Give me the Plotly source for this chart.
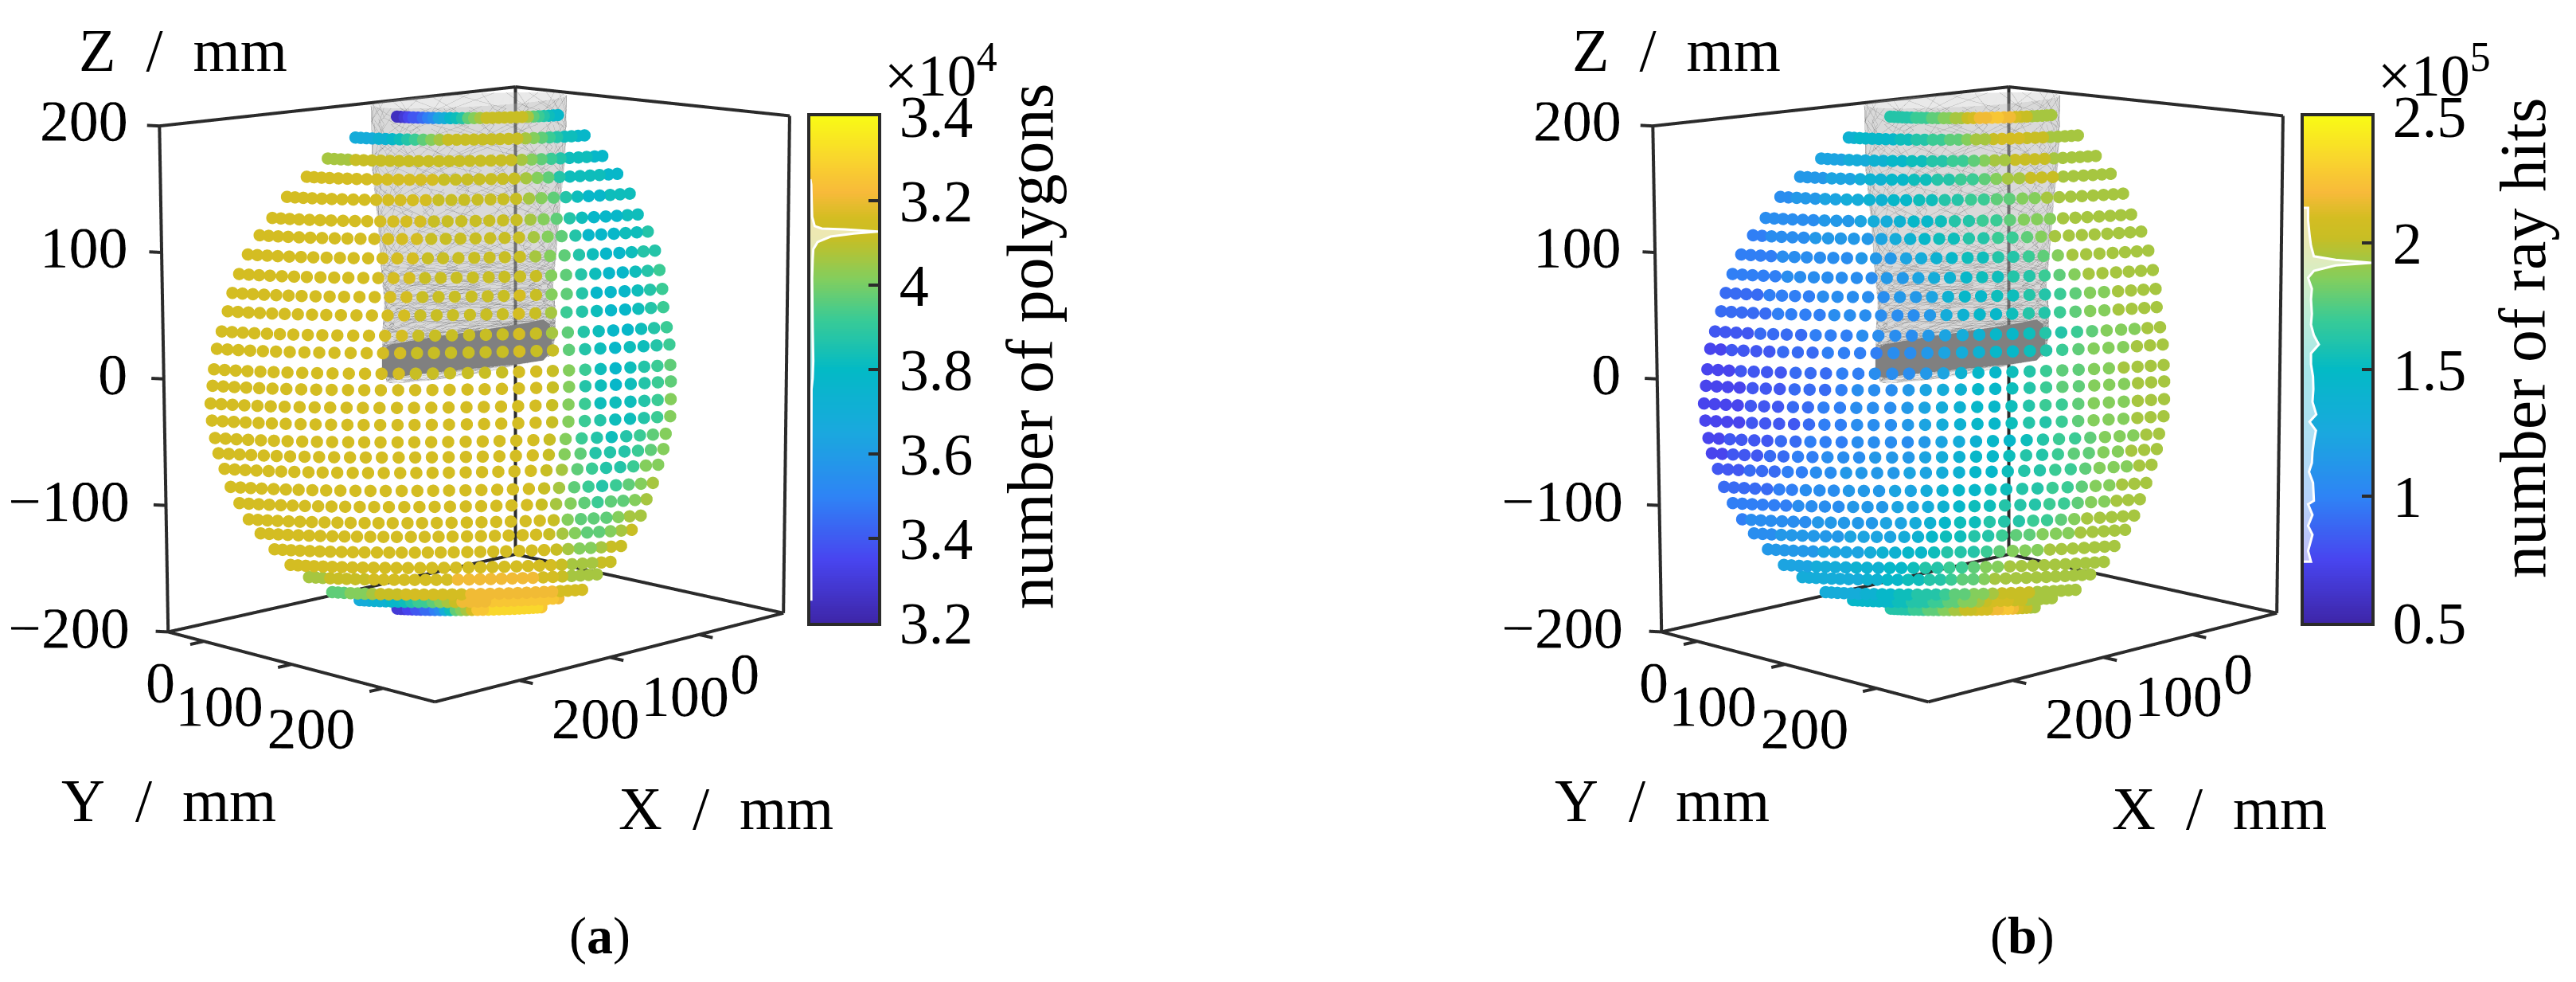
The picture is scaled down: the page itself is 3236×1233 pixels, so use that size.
import numpy as np
import plotly.graph_objects as go

W, H = 3236, 1233
PAGE_MARGIN = 8  # the page body adds this much on the top and left
FONT = "Liberation Serif"
INK = "#2b2b2b"

# one row per ring of sample points, top to bottom (mm)
ROW_Z = [225, 217, 206, 196, 184, 170, 159, 146, 132, 118, 104, 89, 76, 60, 47,
         33, 19, 4, -9, -23, -39, -54, -69, -83, -99, -115, -129, -146, -159, -173]
ROW_RADIUS = [85, 121, 145, 164, 181, 193, 205, 215, 222, 227, 230, 235, 239, 241, 242,
              243, 242, 238, 235, 229, 223, 215, 207, 196, 183, 169, 152, 132, 105, 76]
ROW_SHIFT = [20, 16, 13.4, 12, 10, 8, 7.6, 6.3, 5, 3.7, 2.4, 1.6, 1, 0.3, 0,
             -0.8, -0.5, -1.3, -1, -1, -1, -0.5, 0.5, 1, 1.6, 3, 4, 6.3, 6.3, 13]
# azimuth of each column, relative to the view direction (deg)
COL_ANGLE = [-55, -51.6, -48.3, -45, -41.6, -38.3, -35, -31.6, -28.3, -25, -21.6, -18.3, -15, -11.6,
             -8.3, -5, -1.7, 1.7, 5, 8.3, 11.6, 15, 18.3, 21.6, 25, 28.3, 31.6, 35, 38.3, 41.6, 45]

# colour level per point: A = bottom of the colour bar ... Z = top
LEVELS_A = [
    "BBCDEEFGHJKMNOQRSTTTTTTTSQPONMM",
    "KKKKLLMNOPQRSTTTTTTTTTSRQPONNMM",
    "SSSSTTTTTTTTTTTTTTTTTSRQPONNNMM",
    "UUUUUUUUUUUUUUTTTTTTTSRQONNNNMM",
    "UUUUUUUUUUUUUUTTTTTTTSRQONMMNNN",
    "UUUUUUUUUUUUUUTTTTTTTSRQONMMMNN",
    "UUUUUUUUUUUUUUTTTTTTTSRQOMMMNNO",
    "UUUUUUUUUUUUUUTTTTTTTSRQONMMNOO",
    "UUUUUUUUUUUUUUTTTTTTTTRQONMMNOP",
    "UUUUUUUUUUUUUUTTTTTTUTRQOMMMNOP",
    "UUUUUUUUUUUUUUTTTTTTUTSPONMMNOP",
    "UUUUUUUUUUUUUUTTTTTTUTSQONMMNOP",
    "UUUUUUUUUUUUUUTTTTTTUTTQONMNNOP",
    "UUUUUUUUUUUUUUTTTTTTUUTRPNMNOPQ",
    "UUUUUUUUUUUUUUUUUUUUUUTRONMNOPQ",
    "UUUUUUUUUUUUUUUUUUUUUUTRPNNNOPR",
    "UUUUUUUUUUUUUUUUUUUUUUTRPONNOPR",
    "UUUUUUUUUUUUUUUUUUUUUUTRPONOPQR",
    "UUUUUUUUUUUUUUUUUUUUUUTRQOOOPQR",
    "UUUUUUUUUUUUUUUUUUUUUUTSQPOOPRR",
    "UUUUUUUUUUUUUUUUUUUUUUTSQPOPQRS",
    "UUUUUUUUUUUUUUUUUUUUUUTSRQPQQRS",
    "UUUUUUUUUUUUUUUUUUUUUUUTRQQQRSS",
    "UUUUUUUUUUUUUUUUUUUUUUUTSRQQRST",
    "UUUUUUUUUUUUUUUUUUUUUUUUTSRRSTT",
    "UUUUUUUUUUUUUUUUUUUUUUUUUTSSSTT",
    "SSSTTTTTUUUUUUUUVVVVVVVVUUTSSSS",
    "QQQRRRSTTTUUUUUUUVVVVVVVVVVUUUU",
    "KKKLLLMMNOPPQRSTVVVVWWWWWWWWWWV",
    "CCCDDEEFFGHKNQRSUWWXXXXXXXXXXXW",
]
LEVELS_B = [
    "OOOOOOPPPQQRRSSTUVVWWVVUTTSSSSS",
    "LLMMMMMMNNOOPPQQRSSTUUUTTTSSSSS",
    "JJJJKKKLLMMNNOOPPQRSSTTTTSSSSSS",
    "IIIIJJJKLLMMNNOOPPQRSSTTTSSSSSS",
    "HHIIIJJKKLLMMNNOOPPQQRRSSSSSSSS",
    "HHHHHHIIIJKKLMMNOOPPQRRRSSSSSSS",
    "GGHHHHIIIIIJKLMNNOOPPQRSSSSSSSS",
    "GGGGHHHHHHIIIJKLMNNOOPQRSSSSSSS",
    "GGGGGHHHHHHHIIJKLMNNOOPQRSSSSSS",
    "FFFFGGGGHHHHHIIJLMMNNOOPQRRSSSS",
    "FFFFFGGGGHHHHHHIKLMMNOOPQRRSSSS",
    "EEEEFFFFGGGHHHHIJKLMMNOOPQRRRSS",
    "DDEEEEFFFGGGGHHIJKLMMNOPQRRRSSS",
    "DDDEEEEFFFGGHHHIJLMMNOPQQRRSSSS",
    "DDDDEEEFFFGHHHIJKLMMNOPQQRRRSSS",
    "DDDDEEEFFGGHHHIJKLMMNOPPQRRRSSS",
    "DDDDEEEEFGGHHHIJKLMMNOOPQRRRSSS",
    "DDEEEEFFGGGHHHHIJKLMMNOPPQRRRSS",
    "DDEEEFFGGHHHIIIJKLMMNOOPQQRRSSS",
    "EEEFFFGGHHIIIIJJKLMMNOOPPQRRRSS",
    "FFFFFGGHHHIIIJJKLMMNNOOPPQRRSSS",
    "GGGGGGHHHHIIIJJKLMNNOOOPPQRRSSS",
    "GHHHHHHIIIIIJJKLMNNOOOPPQRSSSSS",
    "HHHIIIIIIJJJJKLMNNOOPQQRRRSSSSS",
    "IIIIIIJJJJKLLMMNOOOPQRRRSSSSSSS",
    "JJJJKKKKLLLMMNOOPPQRRSSSSSSSSSS",
    "KKKKKKKKLLMMNNOOPQQRSSSSSSSSSSS",
    "KKKKKKLLMMNNOOOPQQRRSTTTTSSSSSS",
    "MMMMMMMMNNOOOPPQQRRSTUUUTTSSSSS",
    "OOOOOOPPPQQQRRSSTTUUUVVWWVUTTSS",
]

# colour bars
RANGE_A = [3.2, 4.4]
RANGE_B = [0.5, 2.5]
TICKS_A = [3.2, 3.4, 3.6, 3.8, 4.0, 4.2, 4.4]
TICKTEXT_A = ["3.2", "3.4", "3.6", "3.8", "4", "3.2", "3.4"]
TICKS_B = [0.5, 1.0, 1.5, 2.0, 2.5]
TICKTEXT_B = ["0.5", "1", "1.5", "2", "2.5"]
HIST_A_V = [3.255, 3.387, 3.557, 3.753, 3.779, 3.821, 3.898, 4.017, 4.06, 4.085, 4.102,
            4.115, 4.122, 4.127, 4.132, 4.134, 4.14, 4.162, 4.238, 4.251]
HIST_A_N = [0.013, 0.01, 0.01, 0.017, 0.034, 0.043, 0.034, 0.026, 0.034, 0.043, 0.107,
            0.3, 0.64, 1.0, 0.51, 0.17, 0.064, 0.026, 0.013, 0.0]
HIST_B_V = [0.741, 0.784, 0.848, 0.883, 0.926, 0.968, 0.982, 1.053, 1.096, 1.131, 1.174, 1.216,
            1.259, 1.294, 1.323, 1.372, 1.422, 1.472, 1.521, 1.564, 1.599, 1.635, 1.677, 1.72,
            1.777, 1.819, 1.862, 1.89, 1.911, 1.921, 1.933, 1.947, 1.989, 2.032, 2.089, 2.138]
HIST_B_N = [0.107, 0.064, 0.129, 0.064, 0.129, 0.064, 0.15, 0.137, 0.077, 0.12, 0.129, 0.15,
            0.18, 0.086, 0.185, 0.129, 0.142, 0.137, 0.107, 0.107, 0.223, 0.15, 0.107, 0.12,
            0.107, 0.12, 0.064, 0.15, 0.472, 1.0, 0.472, 0.15, 0.107, 0.086, 0.064, 0.064]

PARULA = [[0, "#3E26A8"], [0.125, "#4845F0"], [0.25, "#2E84F5"], [0.375, "#1AA8DE"], [0.5, "#03BAC5"],
          [0.6, "#3ACB95"], [0.68, "#84CE5C"], [0.76, "#C8BE24"], [0.8, "#D4BD22"], [0.85, "#F8BA3A"],
          [0.92, "#F9D72C"], [1, "#F9FB15"]]

# axes box corners as (across view, towards view, height); the reference has a little
# perspective, the scene here is orthographic, so they are read off one by one
TOP_LEFT = (-252, 17.7, 201)
BOTTOM_LEFT = (-245, 17.7, -206)
TOP_BACK = (35, -251, 163)
BOTTOM_BACK = (35, -251, -213)
TOP_RIGHT = (256, -17.7, 200)
BOTTOM_RIGHT = (251, -17.7, -200)
BOTTOM_FRONT = (-30, 251, -202)
# where the ticks sit along the front edges
X_TICK_FRAC = [0.242, 0.498, 0.758]
Y_TICK_FRAC = [0.134, 0.463, 0.806]
Z_TICK_FRAC = [0.0, 0.25, 0.5, 0.75, 1.0]
# tick labels as (across, height) in front of the box
X_LABELS = ["0", "100", "200"]
X_LABEL_U = [219.5, 172.7, 99.5]
X_LABEL_Z = [-206, -224, -242]
Y_LABELS = ["0", "100", "200"]
Y_LABEL_U = [-251.6, -202.8, -129.7]
Y_LABEL_Z = [-213, -232, -250]
Z_LABELS = ["\u2212200", "\u2212100", "0", "100", "200"]
Z_LABEL_U = [-325, -325, -290, -312, -313]
Z_LABEL_Z = [-195, -93, 9, 111, 213]

# blade stations: height, half width, rise of the +u end (mm)
BLADE_Z = [217, 167, 124, 81, 60, 38, 17, 0]
BLADE_W = [79, 78, 73.5, 70, 68, 70, 70, 66]
BLADE_TILT = [4, 5, 6, 7, 8, 9, 10, 11]
BLADE_DEPTH = 20
# solid root band: position across the blade, centre height, half height (mm)
BAND_U = [-70, -68, -63, -40, 0, 40, 60, 65, 67]
BAND_Z = [12, 12.5, 13.5, 17, 22, 27, 30.5, 31.5, 32]
BAND_H = [5, 11, 13.5, 14, 15, 16, 16.5, 12, 5]

PHI = np.radians(45)
EL = np.radians(15)
U = np.array([-np.sin(PHI), np.cos(PHI)])
V = np.array([np.cos(PHI), np.sin(PHI)])
CENTER = np.array([110.0, 105.0])  # box centre
SPHERE_U = -11
BLADE_U = -2.6
DROOP = 0.2
TILT = 3.5
SCENE_HALF = 300
Z_RANGE = [-290, 240]
EYE = 0.88
ZOOM = 1.7
Z_STRETCH = 1.037
CAM_Z = -0.102


def to_xy(uu, vv):
    return CENTER + uu * U + vv * V


def sphere_points():
    xs, ys, zs = [], [], []
    for z0, rho, shift in zip(ROW_Z, ROW_RADIUS, ROW_SHIFT):
        for ang in COL_ANGLE:
            th = np.radians(ang)
            p = to_xy(SPHERE_U + shift + rho * np.sin(th), rho * np.cos(th))
            xs.append(p[0])
            ys.append(p[1])
            zs.append(z0 - DROOP * rho * (1 - np.cos(th)) + TILT * np.sin(th) * rho / 240)
    return xs, ys, zs


def levels_to_values(rows, vrange):
    out = []
    for row in rows:
        out.extend(vrange[0] + (vrange[1] - vrange[0]) * (ord(c) - 65) / 25 for c in row)
    return out


def blade_traces():
    rings_z = np.concatenate([np.arange(217, 90, -13.0), np.arange(90, 30, -4.0), np.arange(30, 0, -1.5)])
    order = np.argsort(BLADE_Z)
    zs = np.array(BLADE_Z)[order]
    ang = np.radians(np.arange(0, 360, 7.5))
    nz, na = len(rings_z), len(ang)
    px, py, pz = [], [], []
    for z in rings_z:
        w = np.interp(z, zs, np.array(BLADE_W)[order])
        tilt = np.interp(z, zs, np.array(BLADE_TILT)[order])
        for a in ang:
            p = to_xy(BLADE_U + w * np.cos(a), BLADE_DEPTH * np.sin(a))
            px.append(p[0])
            py.append(p[1])
            pz.append(z + tilt * np.cos(a))
    ii, jj, kk = [], [], []
    for r in range(nz - 1):
        for a in range(na):
            p0, p1 = r * na + a, r * na + (a + 1) % na
            q0, q1 = (r + 1) * na + a, (r + 1) * na + (a + 1) % na
            ii += [p0, p1]
            jj += [p1, q1]
            kk += [q0, q0]
    shell = go.Mesh3d(x=px, y=py, z=pz, i=ii, j=jj, k=kk, color="#b4b4b4", opacity=0.3, flatshading=True,
                      lighting=dict(ambient=1, diffuse=0, specular=0, fresnel=0), hoverinfo="skip")
    # wire net, steps vary so it does not read as a regular grid
    steps = [1, 3, -2, 2, -1, 4, -3, 1, -4, 2]
    lx, ly, lz = [], [], []
    for r in range(nz - 1):
        for a in range(na):
            s = steps[(r * 3 + a) % len(steps)]
            p = r * na + a
            q = (r + 1) * na + (a + s) % na
            lx += [px[p], px[q], None]
            ly += [py[p], py[q], None]
            lz += [pz[p], pz[q], None]
    wire = go.Scatter3d(x=lx, y=ly, z=lz, mode="lines", line=dict(color="#4a4a4a", width=1), opacity=0.32,
                        hoverinfo="skip", showlegend=False)
    bx, by, bz = [], [], []
    for uu, zc, h in zip(BAND_U, BAND_Z, BAND_H):
        p = to_xy(BLADE_U + uu, BLADE_DEPTH + 4)
        bx += [p[0], p[0]]
        by += [p[1], p[1]]
        bz += [zc + h, zc - h]
    n = len(BAND_U)
    bi = [2 * q for q in range(n - 1)] + [2 * q + 1 for q in range(n - 1)]
    bj = [2 * q + 1 for q in range(n - 1)] + [2 * q + 3 for q in range(n - 1)]
    bk = [2 * q + 2 for q in range(n - 1)] + [2 * q + 2 for q in range(n - 1)]
    band = go.Mesh3d(x=bx, y=by, z=bz, i=bi, j=bj, k=bk, color="#808080", opacity=1, flatshading=True,
                     lighting=dict(ambient=1, diffuse=0, specular=0, fresnel=0), hoverinfo="skip")
    return [shell, wire, band]


def along(a, b, f):
    return tuple(a[i] + f * (b[i] - a[i]) for i in range(3))


def box_traces():
    edges = [
        (TOP_LEFT, TOP_BACK), (TOP_BACK, TOP_RIGHT),
        (BOTTOM_LEFT, TOP_LEFT), (BOTTOM_RIGHT, TOP_RIGHT), (BOTTOM_BACK, TOP_BACK),
        (BOTTOM_LEFT, BOTTOM_FRONT), (BOTTOM_FRONT, BOTTOM_RIGHT),
        (BOTTOM_LEFT, BOTTOM_BACK), (BOTTOM_BACK, BOTTOM_RIGHT),
    ]
    # short tick marks
    for f in X_TICK_FRAC:
        a = along(BOTTOM_RIGHT, BOTTOM_FRONT, f)
        edges.append((a, (a[0] + 11, a[1], a[2] - 2.5)))
    for f in Y_TICK_FRAC:
        a = along(BOTTOM_LEFT, BOTTOM_FRONT, f)
        edges.append((a, (a[0] - 11, a[1], a[2] - 2.5)))
    for f in Z_TICK_FRAC:
        a = along(BOTTOM_LEFT, TOP_LEFT, f)
        edges.append((a, (a[0] - 10, a[1], a[2] + 0.5)))
    lx, ly, lz = [], [], []
    for a, b in edges:
        pa, pb = to_xy(a[0], a[1]), to_xy(b[0], b[1])
        lx += [pa[0], pb[0], None]
        ly += [pa[1], pb[1], None]
        lz += [a[2], b[2], None]
    lines = go.Scatter3d(x=lx, y=ly, z=lz, mode="lines", line=dict(color=INK, width=8),
                         hoverinfo="skip", showlegend=False)
    traces = [lines]
    font = dict(family=FONT, size=74, color="black")
    for labels, us, zs, vv in [(X_LABELS, X_LABEL_U, X_LABEL_Z, 150), (Y_LABELS, Y_LABEL_U, Y_LABEL_Z, 150),
                               (Z_LABELS, Z_LABEL_U, Z_LABEL_Z, 50)]:
        pts = [to_xy(uu, vv) for uu in us]
        traces.append(go.Scatter3d(x=[p[0] for p in pts], y=[p[1] for p in pts], z=zs, mode="text", text=labels,
                                   textposition="middle center", textfont=font, hoverinfo="skip", showlegend=False))
    return traces


def scene_layout(left):
    eye = EYE * np.array([np.cos(EL) * np.cos(PHI), np.cos(EL) * np.sin(PHI), np.sin(EL)])
    axis = dict(visible=False, showbackground=False, showgrid=False, zeroline=False, showspikes=False)
    zspan = Z_RANGE[1] - Z_RANGE[0]
    return dict(
        domain=dict(x=[left / W, (left + 1170) / W], y=[1 - 1100 / H, 1]),
        xaxis=dict(axis, range=[CENTER[0] - SCENE_HALF, CENTER[0] + SCENE_HALF]),
        yaxis=dict(axis, range=[CENTER[1] - SCENE_HALF, CENTER[1] + SCENE_HALF]),
        zaxis=dict(axis, range=Z_RANGE),
        aspectmode="manual",
        aspectratio=dict(x=ZOOM, y=ZOOM, z=ZOOM * Z_STRETCH * zspan / (2 * SCENE_HALF)),
        camera=dict(eye=dict(x=eye[0], y=eye[1], z=eye[2] + CAM_Z), up=dict(x=0, y=0, z=1),
                    center=dict(x=0, y=0, z=CAM_Z), projection=dict(type="orthographic")),
        bgcolor="rgba(0,0,0,0)",
        dragmode=False,
    )


def add_panel(fig, scene, levels, vrange, xaxis, yaxis, ticks, ticktext, hist_v, hist_n, bar_left):
    sx, sy, sz = sphere_points()
    for tr in blade_traces() + box_traces():
        tr.scene = scene
        fig.add_trace(tr)
    fig.add_trace(go.Scatter3d(x=sx, y=sy, z=sz, mode="markers", scene=scene, showlegend=False, hoverinfo="skip",
                               marker=dict(size=9, color=levels_to_values(levels, vrange), colorscale=PARULA,
                                           cmin=vrange[0], cmax=vrange[1], opacity=1, line=dict(width=0))))
    grad = np.linspace(vrange[0], vrange[1], 200)
    fig.add_trace(go.Heatmap(x=[0, 1], y=grad, z=[[v, v] for v in grad], colorscale=PARULA, zmin=vrange[0],
                             zmax=vrange[1], showscale=False, xaxis=xaxis, yaxis=yaxis, hoverinfo="skip"))
    fig.add_trace(go.Scatter(x=[0] + hist_n + [0], y=[hist_v[0]] + hist_v + [hist_v[-1]], mode="lines", fill="toself",
                             fillcolor="rgba(255,255,255,0.65)", line=dict(color="white", width=3),
                             xaxis=xaxis, yaxis=yaxis, hoverinfo="skip", showlegend=False))
    axname = xaxis.replace("x", "xaxis")
    ayname = yaxis.replace("y", "yaxis")
    fig.layout[axname] = dict(domain=[(bar_left - PAGE_MARGIN) / W, (bar_left + 85 - PAGE_MARGIN) / W], range=[0, 1],
                              showticklabels=False, ticks="", showgrid=False, zeroline=False, showline=True,
                              mirror=True, linecolor=INK, linewidth=4, anchor=yaxis, automargin=False)
    fig.layout[ayname] = dict(domain=[1 - (782 - PAGE_MARGIN) / H, 1 - (146 - PAGE_MARGIN) / H], range=vrange,
                              side="right", tickmode="array", tickvals=ticks, ticktext=ticktext, ticks="inside",
                              ticklen=12, tickwidth=4, tickcolor=INK, showgrid=False, zeroline=False, showline=True,
                              mirror=True, linecolor=INK, linewidth=4, anchor=xaxis, automargin=False,
                              ticklabelstandoff=8, tickfont=dict(family=FONT, size=74, color="black"))


fig = go.Figure()
add_panel(fig, "scene", LEVELS_A, RANGE_A, "x", "y", TICKS_A, TICKTEXT_A, HIST_A_V, HIST_A_N, 1018)
add_panel(fig, "scene2", LEVELS_B, RANGE_B, "x2", "y2", TICKS_B, TICKTEXT_B, HIST_B_V, HIST_B_N, 2894)


def text(s, x, y, size=76, angle=0):
    return dict(text=s, x=(x - PAGE_MARGIN) / W, y=1 - (y - PAGE_MARGIN) / H, xref="paper", yref="paper",
                showarrow=False, textangle=angle, xanchor="center", yanchor="middle",
                font=dict(family=FONT, size=size, color="black"))


GAP = "\u00a0\u00a0"
annotations = []
for dx, exp, name, name_y in [(0, "4", "number of polygons", 435), (1876, "5", "number of ray hits", 425)]:
    annotations += [
        text("Z%s/%smm" % (GAP, GAP), 230 + dx, 63),
        text("Y%s/%smm" % (GAP, GAP), 212 + dx, 1005),
        text("X%s/%smm" % (GAP, GAP), 912 + dx, 1015),
        text("\u00d710<sup>%s</sup>" % exp, 1182 + dx, 90, size=74),
        text(name, 1294 + dx, name_y, size=82, angle=-90),
    ]
annotations += [text("(<b>a</b>)", 753, 1175, size=66), text("(<b>b</b>)", 2540, 1175, size=66)]

fig.update_layout(width=W, height=H, margin=dict(l=0, r=0, t=0, b=0), paper_bgcolor="white", plot_bgcolor="white",
                  showlegend=False, annotations=annotations, scene=scene_layout(0), scene2=scene_layout(1876))
fig.write_html("out.html")
